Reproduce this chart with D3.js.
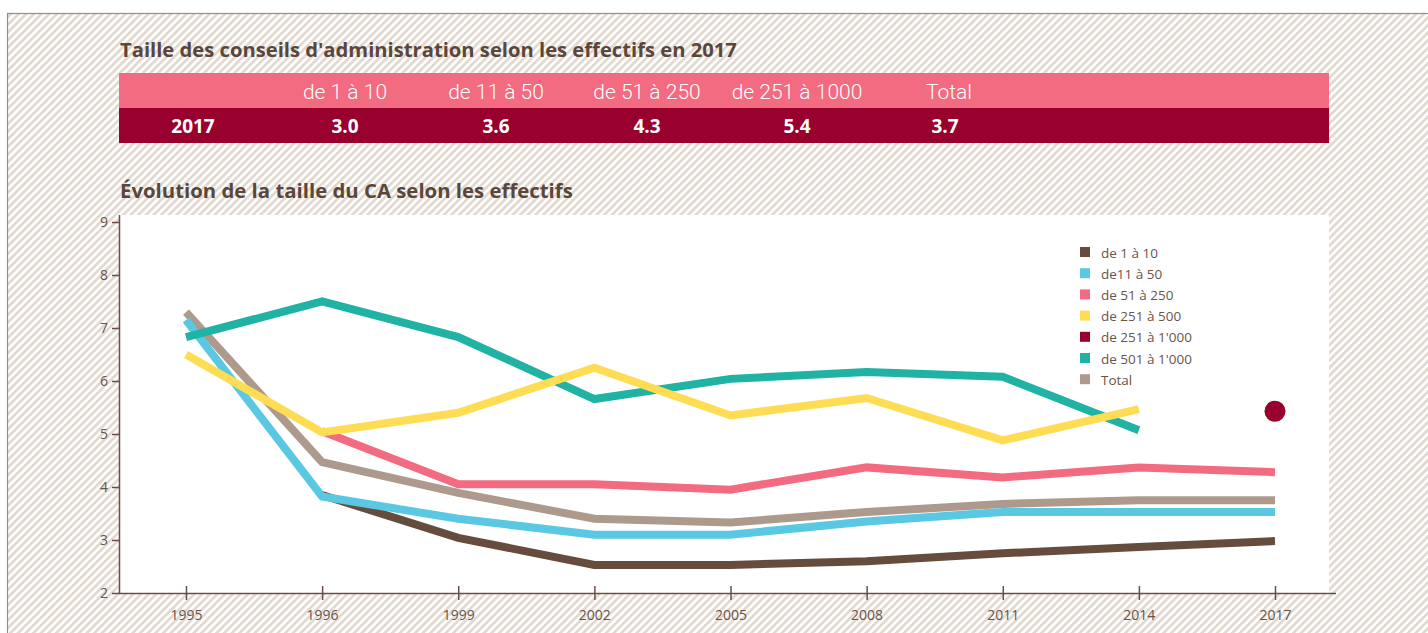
<!DOCTYPE html>
<html><head><meta charset="utf-8">
<script src="https://cdn.jsdelivr.net/npm/d3@7"></script>
<style>html,body{margin:0;padding:0;background:#fff;}svg{display:block;}</style>
</head><body>
<script>
const years = ["1995","1996","1999","2002","2005","2008","2011","2014","2017"];
const yTicks = [2,3,4,5,6,7,8,9];
const tableHeaders = ["", "de 1 à 10", "de 11 à 50", "de 51 à 250", "de 251 à 1000", "Total"];
const tableValues = ["2017", "3.0", "3.6", "4.3", "5.4", "3.7"];
const seriesNames = ["de 1 à 10","de11 à 50","de 51 à 250","de 251 à 500","de 251 à 1'000","de 501 à 1'000","Total"];
const seriesColors = ["#654c3c","#5bc8e3","#f26b80","#fedd55","#98002e","#20b2a3","#ad9a8c"];
const s1to10    = [null, 3.85, 3.04, 2.53, 2.53, 2.60, 2.75, 2.87, 2.98];
const s11to50   = [7.15, 3.82, 3.40, 3.10, 3.10, 3.35, 3.53, 3.53, 3.53];
const s51to250  = [null, 5.05, 4.05, 4.05, 3.95, 4.37, 4.18, 4.37, 4.28];
const s251to500 = [6.50, 5.03, 5.40, 6.25, 5.35, 5.68, 4.88, 5.47, null];
const s251to1000= [null, null, null, null, null, null, null, null, 5.43];
const s501to1000= [6.83, 7.50, 6.83, 5.66, 6.04, 6.17, 6.08, 5.07, null];
const sTotal    = [7.30, 4.47, 3.89, 3.40, 3.33, 3.53, 3.68, 3.75, 3.75];
const seriesValues = [s1to10, s11to50, s51to250, s251to500, s251to1000, s501to1000, sTotal];
const drawOrder = [0, 6, 1, 2, 5, 3];

const W = 1428, H = 633;
const svg = d3.select("body").append("svg").attr("width", W).attr("height", H);
const defs = svg.append("defs");
const pat = defs.append("pattern").attr("id","hatch").attr("patternUnits","userSpaceOnUse")
  .attr("width",5.4).attr("height",5.4).attr("patternTransform","rotate(45)");
pat.append("rect").attr("width",5.4).attr("height",5.4).attr("fill","#ffffff");
pat.append("rect").attr("width",2.8).attr("height",5.4).attr("fill","#e2d9d1");

svg.append("rect").attr("x",0).attr("y",0).attr("width",W).attr("height",H).attr("fill","#fff");
svg.append("rect").attr("x",7.5).attr("y",13.5).attr("width",W).attr("height",H).attr("fill","url(#hatch)")
  .attr("stroke","#9a8b82").attr("stroke-width",1.2);

const titleColor = "#5b463a";
const font = "'Open Sans', sans-serif";

function fitWidth(sel, target) {
  const node = sel.node();
  const w = node.getComputedTextLength();
  const fs = parseFloat(sel.style("font-size"));
  sel.style("font-size", (fs * target / w) + "px");
}

const t1 = svg.append("text").attr("x",120).attr("y",57).attr("fill",titleColor)
  .style("font-family",font).style("font-weight",700).style("font-size","19px")
  .text("Taille des conseils d'administration selon les effectifs en 2017");
fitWidth(t1, 617);

// table
const tX0 = 119, tX1 = 1329;
svg.append("rect").attr("x",tX0).attr("y",73).attr("width",tX1-tX0).attr("height",35).attr("fill","#f26b80");
svg.append("rect").attr("x",tX0).attr("y",108).attr("width",tX1-tX0).attr("height",35).attr("fill","#98002e");
const colCenters = [193, 345, 496, 647, 797, 949];
svg.append("g").selectAll("text").data(tableHeaders).join("text")
  .attr("x",(d,i)=>colCenters[i]).attr("y",99).attr("text-anchor","middle").attr("fill","#fff")
  .style("font-family","Roboto, sans-serif").style("font-weight",300).style("font-size","21px")
  .text(d=>d);
svg.append("g").selectAll("text").data(tableValues).join("text")
  .attr("x",(d,i)=> i===5 ? 945 : colCenters[i]).attr("y",133).attr("text-anchor","middle").attr("fill","#fff")
  .style("font-family",font).style("font-weight",700).style("font-size","19px")
  .text(d=>d);

const t2 = svg.append("text").attr("x",120).attr("y",198).attr("fill",titleColor)
  .style("font-family",font).style("font-weight",700).style("font-size","19px")
  .text("Évolution de la taille du CA selon les effectifs");
fitWidth(t2, 453);

// chart
svg.append("rect").attr("x",119).attr("y",215).attr("width",1329-119).attr("height",593-215).attr("fill","#fff");
const x = d3.scalePoint().domain(years).range([186, 1275]);
const y = d3.scaleLinear().domain([2,9]).range([593, 222]);
const axisColor = "#6b4f45";

const line = d3.line().defined(d=>d.v!=null).x(d=>x(d.year)).y(d=>y(d.v)).curve(d3.curveLinear);
const lines = svg.append("g");
drawOrder.forEach(i=>{
  const data = years.map((yr,j)=>({year:yr, v:seriesValues[i][j]}));
  lines.append("path").datum(data).attr("d",line).attr("fill","none")
    .attr("stroke",seriesColors[i]).attr("stroke-width",8).attr("stroke-linejoin","miter").attr("stroke-linecap","butt");
});
years.forEach((yr,j)=>{
  if (s251to1000[j]!=null) lines.append("circle").attr("cx",x(yr)).attr("cy",y(s251to1000[j])).attr("r",10.5).attr("fill",seriesColors[4]);
});

// y axis
const yAxis = svg.append("g").attr("transform","translate(119,0)")
  .call(d3.axisLeft(y).tickValues(yTicks).tickSize(7).tickPadding(4).tickFormat(d3.format("d")));
yAxis.select(".domain").attr("d","M0.5,215V593.5");
// x axis
const xAxis = svg.append("g").attr("transform","translate(0,593)")
  .call(d3.axisBottom(x).tickSize(7).tickPadding(10));
xAxis.select(".domain").attr("d","M119,0.5H1336");
xAxis.selectAll(".tick line").attr("y1",-7).attr("y2",7);
[yAxis, xAxis].forEach(a=>{
  a.select(".domain").attr("stroke",axisColor).attr("stroke-width",1.5);
  a.selectAll(".tick line").attr("stroke",axisColor).attr("stroke-width",1.5);
  a.selectAll(".tick text").attr("fill","#6b5448").style("font-family",font).style("font-size","14px");
});

// legend
const leg = svg.append("g").attr("transform","translate(1080,247)");
seriesNames.forEach((n,i)=>{
  const g = leg.append("g").attr("transform",`translate(0,${i*21.2})`);
  g.append("rect").attr("width",10).attr("height",10).attr("fill",seriesColors[i]);
  g.append("text").attr("x",21).attr("y",10.5).attr("fill","#6b5448")
    .style("font-family",font).style("font-size","13.5px").text(n);
});
</script>
</body></html>
